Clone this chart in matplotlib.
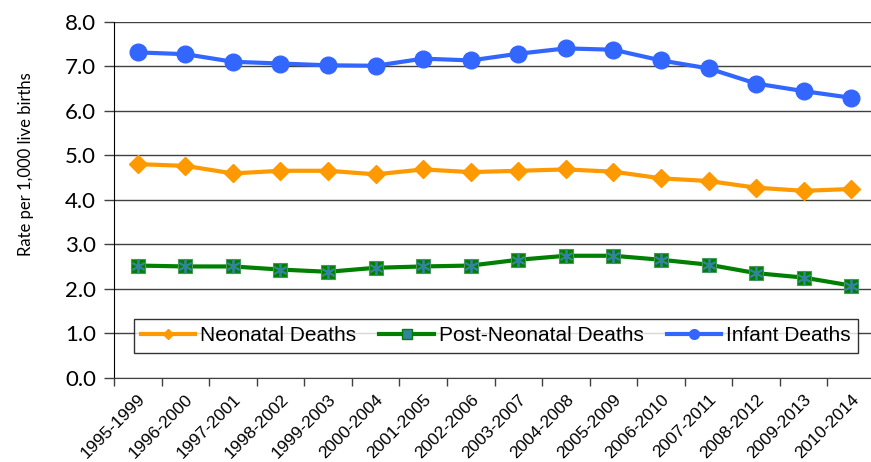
import matplotlib.pyplot as plt
from matplotlib.lines import Line2D

# data
periods = ["1995-1999", "1996-2000", "1997-2001", "1998-2002", "1999-2003",
           "2000-2004", "2001-2005", "2002-2006", "2003-2007", "2004-2008",
           "2005-2009", "2006-2010", "2007-2011", "2008-2012", "2009-2013",
           "2010-2014"]
infant = [7.31, 7.27, 7.10, 7.06, 7.02, 7.01, 7.17, 7.13, 7.28, 7.40,
          7.37, 7.13, 6.95, 6.61, 6.44, 6.29]
neonatal = [4.80, 4.76, 4.59, 4.65, 4.65, 4.57, 4.68, 4.62, 4.65, 4.68,
            4.63, 4.48, 4.42, 4.27, 4.20, 4.24]
post_neonatal = [2.52, 2.50, 2.50, 2.43, 2.38, 2.47, 2.50, 2.52, 2.65, 2.74,
                 2.74, 2.65, 2.54, 2.35, 2.25, 2.07]
y_ticks = [0, 1, 2, 3, 4, 5, 6, 7, 8]

blue = "#3366FF"
orange = "#FF9900"
green = "#008000"
teal = "#31849B"

fig = plt.figure(figsize=(8.71, 4.62), dpi=100)
ax = fig.add_axes([114 / 871, 1 - 377.7 / 462, 761 / 871, (377.7 - 21.7) / 462])

x = list(range(len(periods)))

ax.plot(x, infant, color=blue, lw=3, marker="o", ms=12, zorder=3)
ax.plot(x, neonatal, color=orange, lw=3, marker="D", ms=9, zorder=3)
ax.plot(x, post_neonatal, color=green, lw=3, marker="s", ms=10,
        mfc=green, mec="#4a9a5a", mew=0.8, zorder=3)
ax.plot(x, post_neonatal, ls="none", marker=(6, 2, 0), ms=10,
        mec=teal, mew=1.3, zorder=4)

ax.set_xlim(-0.5, len(periods) - 0.5)
ax.set_ylim(0, 8)
ax.set_yticks(y_ticks)
ax.set_yticklabels([f"{v:.1f}" for v in y_ticks], family="Lato", fontsize=16)
ax.yaxis.grid(True, color="#404040", lw=1)
ax.set_axisbelow(True)
ax.tick_params(axis="y", length=7, width=1, color="#404040", pad=6)

ax.set_xticks(x)
ax.set_xticklabels(periods, rotation=45, ha="right", va="top",
                   rotation_mode="anchor", family="Liberation Sans", fontsize=12.5)
ax.set_xticks([i - 0.5 for i in range(len(periods) + 1)], minor=True)
ax.tick_params(axis="x", which="major", length=0, pad=10)
ax.tick_params(axis="x", which="minor", length=6, width=1, color="#404040")

for s in ["top", "right"]:
    ax.spines[s].set_visible(False)
ax.spines["left"].set_color("black")
ax.spines["bottom"].set_color("#404040")

ax.set_ylabel("Rate per 1,000 live births", family="Lato", fontsize=12)
ax.yaxis.set_label_coords(-0.105, 0.6)

handles = [
    Line2D([], [], color=orange, lw=3, marker="D", ms=5),
    Line2D([], [], color=green, lw=3, marker="s", ms=7, mfc=teal, mec=green),
    Line2D([], [], color=blue, lw=3, marker="o", ms=7),
]
leg = ax.legend(handles, ["Neonatal Deaths", "Post-Neonatal Deaths", "Infant Deaths"],
                loc="lower left", bbox_to_anchor=(0.026, 0.07), ncol=3,
                prop={"family": "Liberation Sans", "size": 15},
                frameon=True, fancybox=False, handlelength=2.6,
                handletextpad=0.25, columnspacing=1.1, borderpad=0.35,
                borderaxespad=0)
leg.get_frame().set_edgecolor("black")
leg.get_frame().set_linewidth(1)

fig.text(0.51, 1 + 4 / 462, "by 5-Year Moving Average, Kansas, 1995-2014",
         ha="center", va="baseline", family="Lato", fontsize=16)

fig.savefig("out.png", dpi=100)
